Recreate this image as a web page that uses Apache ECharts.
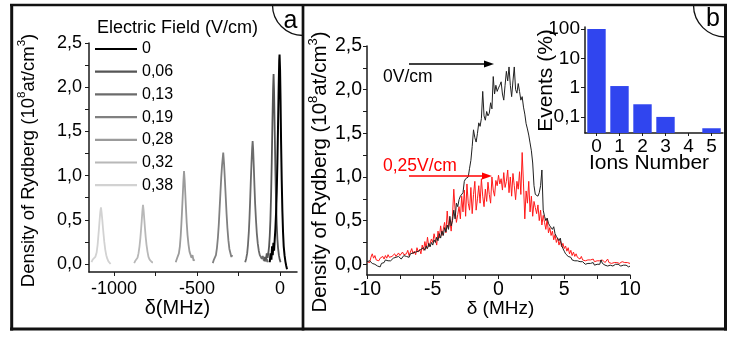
<!DOCTYPE html>
<html><head><meta charset="utf-8">
<script src="https://cdn.jsdelivr.net/npm/echarts@6/dist/echarts.min.js"></script>
<style>html,body{margin:0;padding:0;background:#fff}#c{width:738px;height:342px}</style>
</head><body><div id="c"></div>
<script>
// ---------- DATA ----------
// Panel a: spectra for each electric field (MHz, 10^8 at/cm^3)
const fieldLabels = ['0','0,06','0,13','0,19','0,28','0,32','0,38'];
const spec000 = [[-62,0.02],[-57,0.12],[-52,0.05],[-48,0.2],[-44,0.1],[-40,0.24],[-36,0.15],[-32,0.28],[-28,0.4],[-24,0.58],[-20,0.82],[-16,1.15],[-12,1.58],[-8,2.02],[-5,2.3],[-3,2.37],[0,2.2],[3,1.85],[6,1.4],[10,0.95],[14,0.6],[18,0.36],[22,0.2],[27,0.1],[32,0.03],[37,-0.02],[42,-0.06]];
const spec006 = [[-95,0.03],[-90,0.08],[-85,0.05],[-80,0.12],[-75,0.07],[-70,0.13],[-66,0.2],[-62,0.32],[-58,0.5],[-54,0.78],[-50,1.15],[-46,1.6],[-42,1.98],[-39,2.15],[-36,1.95],[-32,1.5],[-28,1.05],[-24,0.7],[-20,0.45],[-16,0.28],[-12,0.18],[-7,0.1],[-2,0.05],[3,0.02]];
const spec013 = [[-210,0.02],[-204,0.06],[-198,0.12],[-193,0.22],[-188,0.36],[-184,0.52],[-180,0.72],[-176,0.94],[-172,1.14],[-168,1.31],[-165,1.39],[-162,1.3],[-158,1.1],[-154,0.88],[-150,0.68],[-145,0.5],[-140,0.35],[-134,0.23],[-128,0.15],[-122,0.1],[-116,0.12],[-110,0.06],[-104,0.09],[-98,0.04],[-92,0.07],[-86,0.03],[-80,0.06],[-74,0.02]];
const spec019 = [[-405,0.01],[-398,0.05],[-392,0.03],[-386,0.1],[-380,0.18],[-374,0.3],[-369,0.44],[-364,0.62],[-359,0.8],[-354,0.98],[-349,1.12],[-342,1.26],[-337,1.13],[-332,0.95],[-327,0.76],[-322,0.57],[-317,0.41],[-311,0.27],[-305,0.17],[-299,0.16],[-293,0.08],[-287,0.1]];
const spec028 = [[-628,0.02],[-621,0.06],[-615,0.04],[-609,0.12],[-603,0.2],[-598,0.32],[-594,0.45],[-590,0.6],[-586,0.76],[-582,0.93],[-578,1.05],[-574,0.94],[-570,0.78],[-566,0.62],[-562,0.47],[-557,0.33],[-551,0.22],[-545,0.14],[-539,0.15],[-533,0.07],[-527,0.1],[-521,0.04],[-514,0.05]];
const spec032 = [[-878,0.01],[-870,0.04],[-864,0.02],[-858,0.07],[-852,0.12],[-846,0.2],[-841,0.29],[-837,0.38],[-833,0.48],[-829,0.59],[-825,0.67],[-821,0.6],[-817,0.5],[-813,0.4],[-809,0.31],[-804,0.22],[-798,0.14],[-792,0.08],[-785,0.05],[-778,0.06],[-771,0.02],[-765,0.02]];
const spec038 = [[-1135,0.02],[-1128,0.05],[-1120,0.03],[-1112,0.08],[-1104,0.13],[-1098,0.22],[-1094,0.31],[-1090,0.4],[-1086,0.5],[-1082,0.59],[-1078,0.64],[-1074,0.58],[-1070,0.5],[-1066,0.41],[-1062,0.33],[-1058,0.25],[-1052,0.16],[-1046,0.1],[-1040,0.06],[-1033,0.03],[-1026,0.04],[-1020,0.0]];
const yTicks = [0,0.5,1,1.5,2,2.5];
const yTicksAll = [0,0.25,0.5,0.75,1,1.25,1.5,1.75,2,2.25,2.5];
const xTicksA = [-1000,-500,0];
const xTicksAAll = [-1000,-750,-500,-250,0];

// Panel b: detuning (MHz) and densities
const detuningB = [-10,-9.9,-9.8,-9.7,-9.6,-9.5,-9.4,-9.3,-9.2,-9.1,
-9,-8.9,-8.8,-8.7,-8.6,-8.5,-8.4,-8.3,-8.2,-8.1,
-8,-7.9,-7.8,-7.7,-7.6,-7.5,-7.4,-7.3,-7.2,-7.1,
-7,-6.9,-6.8,-6.7,-6.6,-6.5,-6.4,-6.3,-6.2,-6.1,
-6,-5.9,-5.8,-5.7,-5.6,-5.5,-5.4,-5.3,-5.2,-5.1,
-5,-4.9,-4.8,-4.7,-4.6,-4.5,-4.4,-4.3,-4.2,-4.1,
-4,-3.9,-3.8,-3.7,-3.6,-3.5,-3.4,-3.3,-3.2,-3.1,
-3,-2.9,-2.8,-2.7,-2.6,-2.5,-2.4,-2.3,-2.2,-2.1,
-2,-1.9,-1.8,-1.7,-1.6,-1.5,-1.4,-1.3,-1.2,-1.1,
-1,-0.9,-0.8,-0.7,-0.6,-0.5,-0.4,-0.3,-0.2,-0.1,
0,0.1,0.2,0.3,0.4,0.5,0.6,0.7,0.8,0.9,
1,1.1,1.2,1.3,1.4,1.5,1.6,1.7,1.8,1.9,
2,2.1,2.2,2.3,2.4,2.5,2.6,2.7,2.8,2.9,
3,3.1,3.2,3.3,3.4,3.5,3.6,3.7,3.8,3.9,
4,4.1,4.2,4.3,4.4,4.5,4.6,4.7,4.8,4.9,
5,5.1,5.2,5.3,5.4,5.5,5.6,5.7,5.8,5.9,
6,6.1,6.2,6.3,6.4,6.5,6.6,6.7,6.8,6.9,
7,7.1,7.2,7.3,7.4,7.5,7.6,7.7,7.8,7.9,
8,8.1,8.2,8.3,8.4,8.5,8.6,8.7,8.8,8.9,
9,9.1,9.2,9.3,9.4,9.5,9.6,9.7,9.8,9.9,
10];
const density0V = [0.03,0.02,0.04,0.03,0.01,0.02,0.00,-0.01,-0.02,0.00,
-0.03,0.01,0.03,0.02,0.05,0.03,0.04,0.06,0.04,0.05,
0.07,0.05,0.08,0.06,0.09,0.07,0.06,0.08,0.10,0.08,
0.09,0.11,0.08,0.12,0.10,0.13,0.11,0.14,0.12,0.15,
0.13,0.17,0.15,0.19,0.16,0.21,0.18,0.24,0.20,0.25,
0.22,0.28,0.25,0.31,0.27,0.35,0.30,0.38,0.33,0.42,
0.37,0.45,0.40,0.55,0.44,0.50,0.62,0.52,0.70,0.66,
0.74,0.78,0.76,0.82,0.95,0.98,0.97,1.00,1.10,1.19,
1.35,1.54,1.45,1.40,1.50,1.62,1.58,1.67,1.98,1.70,
1.65,1.75,1.70,1.73,1.85,1.78,2.15,1.95,2.05,1.98,
2.02,2.05,2.09,1.95,1.88,2.05,2.21,2.10,2.26,2.05,
1.92,2.10,2.26,2.00,1.96,2.07,1.98,1.88,1.92,1.80,
1.72,1.61,1.55,1.48,1.39,1.30,1.16,0.90,0.80,0.78,
0.78,0.82,0.90,1.08,0.62,0.55,0.50,0.53,0.47,0.44,
0.45,0.40,0.43,0.35,0.32,0.34,0.27,0.30,0.22,0.18,
0.15,0.12,0.14,0.09,0.07,0.08,0.05,0.06,0.04,0.03,
0.04,0.02,0.03,0.01,0.03,0.02,0.00,0.02,0.01,0.00,
0.01,0.00,0.02,-0.01,0.01,0.00,0.02,0.00,0.05,0.01,
0.00,-0.01,0.01,-0.02,0.00,-0.01,0.01,-0.02,-0.01,0.00,
-0.02,0.00,-0.01,-0.02,0.00,-0.01,-0.02,-0.01,-0.02,-0.03,
-0.02];
const density025V = [0.03,0.05,0.02,0.08,0.12,0.07,0.10,0.05,0.06,0.04,
0.07,0.05,0.09,0.06,0.10,0.07,0.11,0.08,0.06,0.09,
0.08,0.12,0.09,0.07,0.13,0.10,0.08,0.14,0.11,0.09,
0.12,0.16,0.10,0.14,0.18,0.12,0.15,0.11,0.19,0.14,
0.17,0.12,0.22,0.16,0.26,0.18,0.31,0.20,0.24,0.29,
0.25,0.35,0.28,0.22,0.38,0.30,0.44,0.33,0.40,0.48,
0.36,0.61,0.42,0.50,0.38,0.55,0.86,0.62,0.48,0.57,
0.66,0.52,0.78,0.60,0.85,0.55,0.92,0.70,0.62,0.88,
0.58,0.80,0.95,0.62,0.75,0.90,0.70,0.98,0.78,0.66,
0.86,0.72,0.94,0.80,0.70,1.00,0.85,0.78,0.96,0.90,
1.02,0.92,0.98,0.85,1.05,0.88,0.95,1.08,0.82,1.00,
0.78,1.04,0.90,0.74,0.95,0.86,1.06,0.80,1.28,0.92,
0.52,0.84,0.70,0.95,0.60,0.78,0.55,0.72,0.65,0.58,
0.68,0.50,0.62,0.45,0.56,0.48,0.40,0.52,0.36,0.42,
0.33,0.38,0.28,0.34,0.25,0.30,0.22,0.27,0.20,0.24,
0.18,0.21,0.15,0.19,0.12,0.16,0.10,0.14,0.09,0.12,
0.08,0.10,0.06,0.09,0.05,0.07,0.04,0.06,0.05,0.03,
0.05,0.04,0.06,0.03,0.05,0.04,0.02,0.04,0.03,0.05,
0.03,0.02,0.04,0.06,0.02,0.03,0.01,0.03,0.02,0.04,
0.02,0.03,0.01,0.02,0.03,0.01,0.02,0.00,0.02,0.01,
0.01];
const xTicksB = [-10,-7.5,-5,-2.5,0,2.5,5,7.5,10];

// Inset: ion number statistics
const ionsNumber = ['0','1','2','3','4','5'];
const eventsPct = [100, 1.13, 0.27, 0.10, null, 0.041];
const eventsTickValues = [0.1, 1, 10, 100];
const eventsTickLabels = ['0,1', '1', '10', '100'];

// ---------- STYLE / BUILD ----------
const FONT = '"Liberation Sans", Arial, Helvetica, sans-serif';
const greys = ['#000000','#555555','#6b6b6b','#808080','#9b9b9b','#b8b8b8','#d2d2d2'];
const specs = [spec000, spec006, spec013, spec019, spec028, spec032, spec038];
const LOG_MIN = -1.549, LOG_MAX = 2.068;
const fmt1 = v => v.toFixed(1).replace('.', ',');
const axisLineStyle = {color:'#1a1a1a', width:1.5};

const chart = echarts.init(document.getElementById('c'), null, {renderer:'canvas'});

const seriesA = specs.map((d, i) => ({
  name: fieldLabels[i], type:'line', xAxisIndex:0, yAxisIndex:0,
  data: d, symbol:'none', z: 10 - i,
  lineStyle:{color: greys[i], width: i === 0 ? 2 : 1.8},
  itemStyle:{color: greys[i]}
})).reverse();

const logEvents = [];
eventsPct.forEach((v, i) => { if (v != null) logEvents.push([i, Math.log10(v)]); });

const ySup = (size, supSize) => ({
  n:{fontSize:size, fontFamily:FONT, color:'#000', lineHeight:size+6, verticalAlign:'middle'},
  s:{fontSize:supSize, fontFamily:FONT, color:'#000', verticalAlign:'top'}
});
const yTitle = '{n|Density of Rydberg (10}{s|8}{n|at/cm}{s|3}{n|)}';

function arrow(x1, x2, y, color) {
  return [
    {type:'line', shape:{x1:x1, y1:y, x2:x2-8, y2:y}, style:{stroke:color, lineWidth:1.6}, z:20},
    {type:'polygon', shape:{points:[[x2-10,y-3.5],[x2,y],[x2-10,y+3.5]]}, style:{fill:color}, z:20}
  ];
}

const option = {
  animation:false,
  backgroundColor:'#ffffff',
  grid:[
    {left:89, top:43, width:208, height:229},
    {left:367, top:46, width:263, height:229},
    {left:585, top:27, width:138, height:106}
  ],
  xAxis:[
    {type:'value', gridIndex:0, min:-1150, max:102,
     axisLine:{show:true, lineStyle:axisLineStyle, onZero:false},
     axisTick:{show:true, customValues:xTicksAAll, length:4, lineStyle:{color:'#1a1a1a'}},
     axisLabel:{customValues:xTicksA, margin:8, fontSize:18, fontFamily:FONT, color:'#000', formatter:v => String(v)},
     splitLine:{show:false}},
    {type:'value', gridIndex:1, min:-10, max:10,
     axisLine:{show:true, lineStyle:axisLineStyle, onZero:false},
     axisTick:{show:true, customValues:xTicksB, length:4, lineStyle:{color:'#1a1a1a'}},
     axisLabel:{customValues:[-10,-5,0,5,10], margin:5, fontSize:19.5, fontFamily:FONT, color:'#000', formatter:v => String(v)},
     splitLine:{show:false}},
    {type:'category', gridIndex:2, data:ionsNumber,
     axisLine:{show:true, lineStyle:axisLineStyle, onZero:false},
     axisTick:{show:true, alignWithLabel:true, length:3, lineStyle:{color:'#1a1a1a'}},
     axisLabel:{margin:4, fontSize:19, fontFamily:FONT, color:'#000'},
     splitLine:{show:false}}
  ],
  yAxis:[
    {type:'value', gridIndex:0, min:-0.0905, max:2.5,
     axisLine:{show:true, lineStyle:axisLineStyle, onZero:false},
     axisTick:{show:true, customValues:yTicksAll, length:4, lineStyle:{color:'#1a1a1a'}},
     axisLabel:{customValues:yTicks, margin:7, fontSize:18, fontFamily:FONT, color:'#000', formatter:fmt1},
     splitLine:{show:false}},
    {type:'value', gridIndex:1, min:-0.1226, max:2.5,
     axisLine:{show:true, lineStyle:axisLineStyle, onZero:false},
     axisTick:{show:true, customValues:yTicksAll, length:4, lineStyle:{color:'#1a1a1a'}},
     axisLabel:{customValues:yTicks, margin:5, fontSize:19.5, fontFamily:FONT, color:'#000', formatter:fmt1},
     splitLine:{show:false}},
    {type:'value', gridIndex:2, min:LOG_MIN, max:LOG_MAX,
     axisLine:{show:true, lineStyle:axisLineStyle, onZero:false},
     axisTick:{show:true, customValues:eventsTickValues.map(Math.log10), length:4, lineStyle:{color:'#1a1a1a'}},
     axisLabel:{customValues:eventsTickValues.map(Math.log10), margin:5, fontSize:19, fontFamily:FONT, color:'#000',
       formatter:v => { const k = eventsTickValues.findIndex(t => Math.abs(Math.log10(t) - v) < 1e-6); return k >= 0 ? eventsTickLabels[k] : ''; }},
     splitLine:{show:false}}
  ],
  legend:{
    data:fieldLabels, orient:'vertical', left:95, top:41, icon:'rect',
    itemWidth:42, itemHeight:2.2, itemGap:6.7, selectedMode:false,
    textStyle:{fontSize:16, fontFamily:FONT, color:'#000', lineHeight:16},
    padding:0
  },
  series: seriesA.concat([
    {name:'0,25V/cm', type:'line', xAxisIndex:1, yAxisIndex:1, symbol:'none',
     data: detuningB.map((x, i) => [x, density025V[i]]),
     lineStyle:{color:'#ff1a1a', width:1}, z:5},
    {name:'0V/cm', type:'line', xAxisIndex:1, yAxisIndex:1, symbol:'none',
     data: detuningB.map((x, i) => [x, density0V[i]]),
     lineStyle:{color:'#202020', width:1}, z:6},
    {name:'events', type:'custom', xAxisIndex:2, yAxisIndex:2, data:logEvents,
     renderItem:(params, api) => {
       const top = api.coord([api.value(0), api.value(1)]);
       const base = api.coord([api.value(0), LOG_MIN]);
       const w = api.size([1, 0])[0] * 0.8;
       return {type:'rect', shape:{x:top[0]-w/2, y:top[1], width:w, height:base[1]-top[1]}, style:{fill:'#3045ef'}};
     }}
  ]),
  graphic:{elements:[
    // frame
    {type:'line', shape:{x1:10, y1:5, x2:727, y2:5}, style:{stroke:'#111', lineWidth:2.5}},
    {type:'line', shape:{x1:11.7, y1:4, x2:11.7, y2:330.5}, style:{stroke:'#111', lineWidth:3}},
    {type:'line', shape:{x1:10, y1:329, x2:727, y2:329}, style:{stroke:'#111', lineWidth:3}},
    {type:'line', shape:{x1:725.5, y1:4, x2:725.5, y2:330.5}, style:{stroke:'#111', lineWidth:3}},
    {type:'line', shape:{x1:303, y1:4, x2:303, y2:330.5}, style:{stroke:'#111', lineWidth:2.7}},
    // panel labels
    {type:'arc', shape:{cx:303, cy:5, r:30.5, startAngle:Math.PI/2, endAngle:Math.PI, clockwise:true}, style:{stroke:'#111', lineWidth:1.3, fill:null}},
    {type:'text', x:290.5, y:21.5, style:{text:'a', fontSize:25, fontFamily:FONT, fill:'#000', align:'center', verticalAlign:'middle'}},
    {type:'arc', shape:{cx:725.5, cy:5, r:32, startAngle:Math.PI/2, endAngle:Math.PI, clockwise:true}, style:{stroke:'#111', lineWidth:1.3, fill:null}},
    {type:'text', x:713, y:19.5, style:{text:'b', fontSize:25, fontFamily:FONT, fill:'#000', align:'center', verticalAlign:'middle'}},
    // panel a texts
    {type:'text', x:97, y:28, style:{text:'Electric Field (V/cm)', fontSize:18, fontFamily:FONT, fill:'#000', align:'left', verticalAlign:'middle'}},
    {type:'text', x:28.5, y:160.5, rotation:Math.PI/2, style:{text:yTitle, rich:ySup(18.5, 11.5), align:'center', verticalAlign:'middle'}},
    {type:'text', x:177.5, y:308, style:{text:'δ(MHz)', fontSize:20, fontFamily:FONT, fill:'#000', align:'center', verticalAlign:'middle'}},
    // panel b texts
    {type:'text', x:320, y:172, rotation:Math.PI/2, style:{text:yTitle, rich:ySup(20.5, 13), align:'center', verticalAlign:'middle'}},
    {type:'text', x:500.5, y:309, style:{text:'δ (MHz)', fontSize:19, fontFamily:FONT, fill:'#000', align:'center', verticalAlign:'middle'}},
    {type:'text', x:383, y:77, style:{text:'0V/cm', fontSize:17.5, fontFamily:FONT, fill:'#000', align:'left', verticalAlign:'middle'}, z:20},
    {type:'text', x:383, y:166, style:{text:'0,25V/cm', fontSize:17.5, fontFamily:FONT, fill:'#ff0000', align:'left', verticalAlign:'middle'}, z:20},
    ...arrow(409, 494, 64, '#000'),
    ...arrow(409, 492, 176, '#ff0000'),
    // inset texts
    {type:'text', x:546.5, y:80.5, rotation:Math.PI/2, style:{text:'Events (%)', fontSize:21, fontFamily:FONT, fill:'#000', align:'center', verticalAlign:'middle'}},
    {type:'text', x:649, y:163, style:{text:'Ions Number', fontSize:21, fontFamily:FONT, fill:'#000', align:'center', verticalAlign:'middle'}}
  ]}
};
chart.setOption(option);
</script></body></html>
